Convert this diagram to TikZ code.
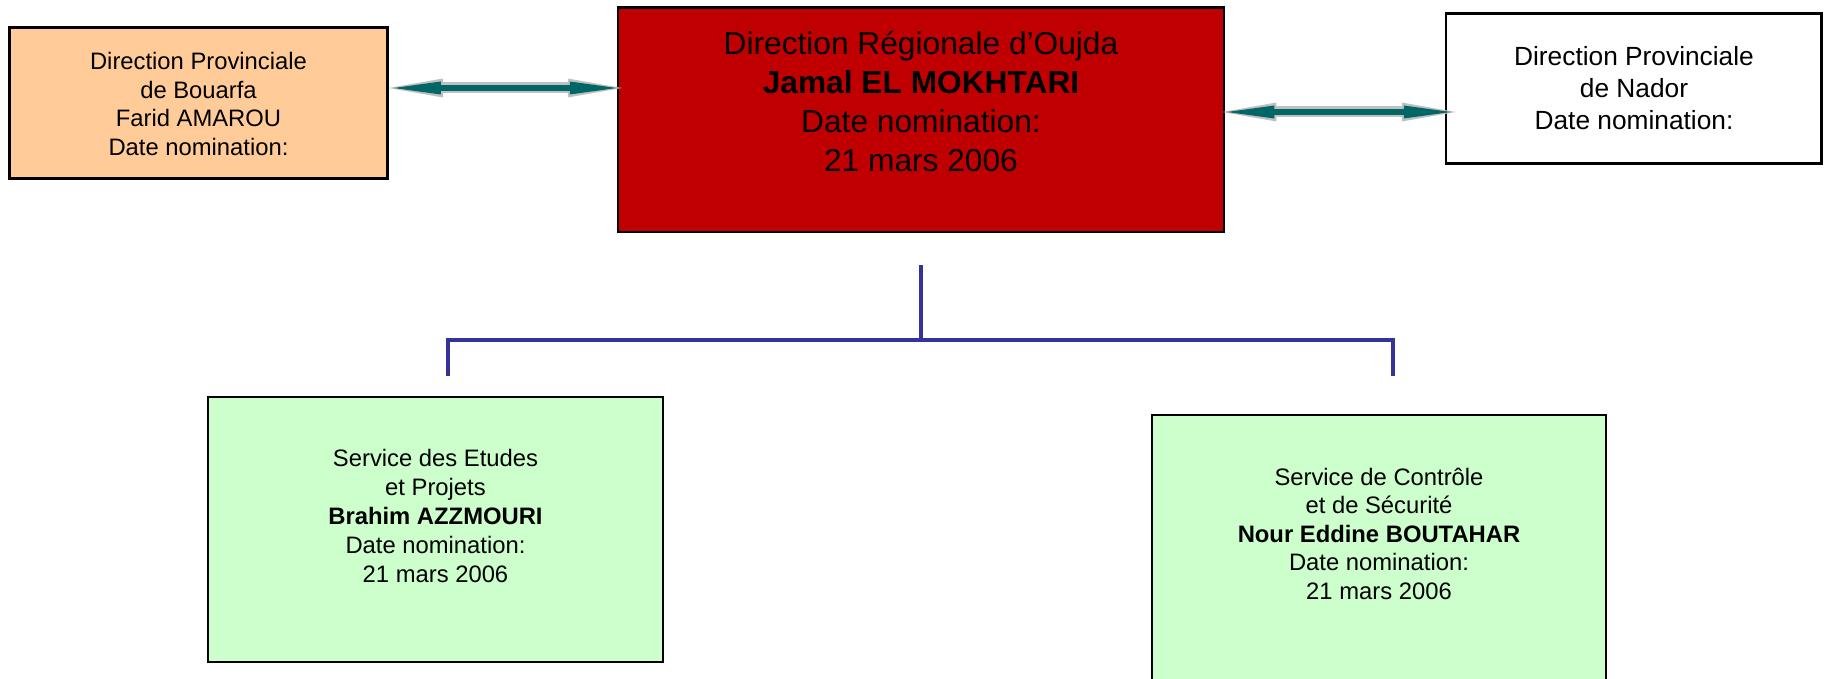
\documentclass[tikz,border=0pt]{standalone}
\usepackage{fontspec}
\setmainfont{Liberation Sans}
\usetikzlibrary{arrows.meta}
\definecolor{redfill}{RGB}{192,0,0}
\definecolor{orangefill}{RGB}{255,204,153}
\definecolor{greenfill}{RGB}{204,255,204}
\definecolor{tealarrow}{RGB}{0,102,102}
\definecolor{arrowgray}{RGB}{192,192,192}
\definecolor{busblue}{RGB}{51,51,153}
\newcommand\orgtext[3]{\fontsize{#1}{#2}\selectfont\begin{tabular}[t]{@{}c@{}}#3\end{tabular}}
\begin{document}
\begin{tikzpicture}[x=1pt,y=-1pt,
  orgbox/.style={draw=black, line width=2.5pt, rectangle, inner sep=0pt},
  txt/.style={anchor=base, inner sep=0pt, text=black},
  arrowout/.style={draw=arrowgray, line width=11pt,
    {Triangle[length=54pt,width=19pt,line width=0pt]}-{Triangle[length=54pt,width=19pt,line width=0pt]}},
  arrowin/.style={draw=tealarrow, line width=5.5pt,
    {Triangle[length=47pt,width=13pt,line width=0pt]}-{Triangle[length=47pt,width=13pt,line width=0pt]}},
  bus/.style={draw=busblue, line width=3.5pt}
]
\useasboundingbox (0,0) rectangle (1824,679);
\clip (0,0) rectangle (1824,679);

% boxes
\node[orgbox, fill=orangefill, minimum width=378pt, minimum height=151pt] (bouarfa) at (198.5,103) {};
\node[orgbox, fill=redfill, minimum width=606pt, minimum height=224.5pt] (red) at (921,119.75) {};
\node[orgbox, fill=white, minimum width=375.5pt, minimum height=150pt] (nador) at (1633.75,88.5) {};
\node[orgbox, fill=greenfill, minimum width=455pt, minimum height=265pt] (etudes) at (435.5,529.5) {};
\node[orgbox, fill=greenfill, minimum width=454pt, minimum height=267pt] (controle) at (1379,548.5) {};

% texts
\node[txt] (bouarfaT) at (198.5,70) {\orgtext{23.8}{28.5}{Direction Provinciale\\de Bouarfa\\Farid AMAROU\\Date nomination:}};
\node[txt] (redT) at (921,55) {\orgtext{31.7}{38.7}{Direction Régionale d’Oujda\\\textbf{Jamal EL MOKHTARI}\\Date nomination:\\21 mars 2006}};
\node[txt] (nadorT) at (1634,66) {\orgtext{26.3}{31.8}{Direction Provinciale\\de Nador\\Date nomination:}};
\node[txt] (etudesT) at (435.5,466) {\orgtext{23.8}{29}{Service des Etudes\\et Projets\\\textbf{Brahim AZZMOURI}\\Date nomination:\\21 mars 2006}};
\node[txt] (controleT) at (1379,485) {\orgtext{23.8}{28.5}{Service de Contrôle\\et de Sécurité\\\textbf{Nour Eddine BOUTAHAR}\\Date nomination:\\21 mars 2006}};

% bus connector
\coordinate (jt) at ([yshift=-32pt]red.south);
\coordinate (busy) at (0,340);
\coordinate (ll) at ([xshift=12.5pt,yshift=20pt]etudes.north);
\coordinate (rl) at ([xshift=14pt,yshift=38pt]controle.north);
\draw[bus] (jt) -- (jt |- busy);
\draw[bus] (ll) -- (ll |- busy) -- (rl |- busy) -- (rl);

% double arrows
\draw[arrowout, shorten >=-5pt] ([yshift=15pt]bouarfa.east) -- ([yshift=31.75pt]red.west);
\draw[arrowin, shorten <=5pt, shorten >=0pt] ([yshift=15pt]bouarfa.east) -- ([yshift=31.75pt]red.west);
\draw[arrowout, shorten <=-3pt, shorten >=-11pt] ([yshift=7.75pt]red.east) -- ([yshift=-23.5pt]nador.west);
\draw[arrowin, shorten <=2pt, shorten >=-6pt] ([yshift=7.75pt]red.east) -- ([yshift=-23.5pt]nador.west);
\end{tikzpicture}
\end{document}
